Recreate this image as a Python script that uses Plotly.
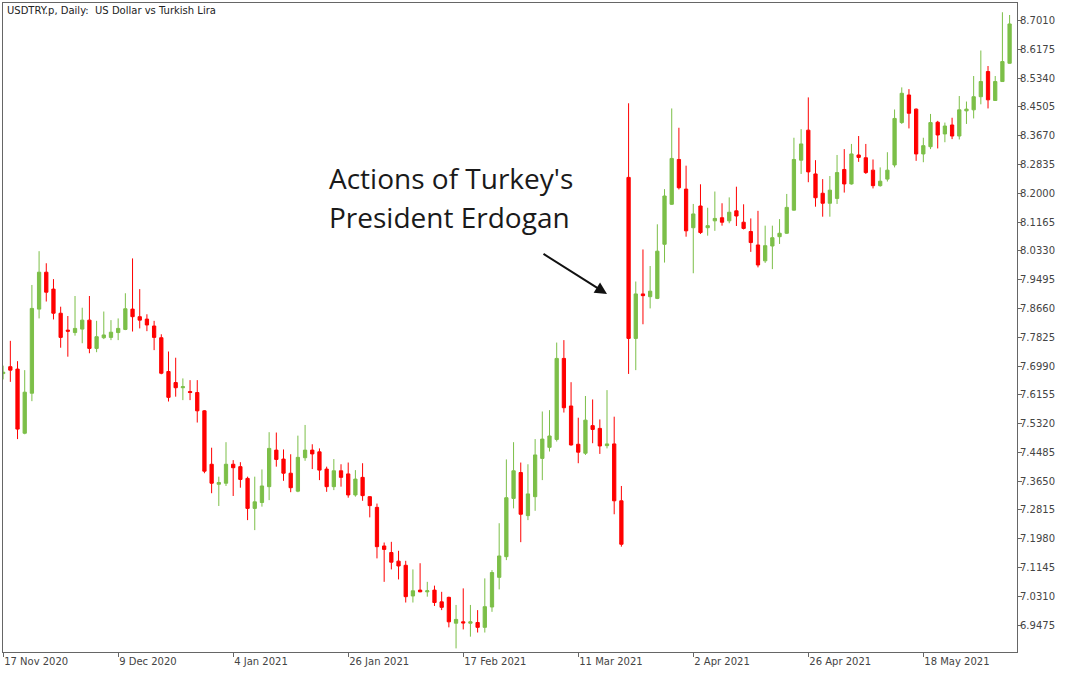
import pandas as pd
import plotly.graph_objects as go

# ---- data -------------------------------------------------------------
holidays = ["2020-12-25", "2021-01-01"]
dates = [d.strftime("%Y-%m-%d") for d in pd.bdate_range("2020-11-17", "2021-06-03")
         if d.strftime("%Y-%m-%d") not in holidays]

open_ = [7.677, 7.697, 7.690, 7.504, 7.620, 7.864, 7.971, 7.922, 7.852, 7.803,
         7.796, 7.806, 7.832, 7.750, 7.781, 7.782, 7.796, 7.805, 7.864, 7.842,
         7.835, 7.815, 7.781, 7.683, 7.651, 7.636, 7.625, 7.622, 7.569, 7.414,
         7.356, 7.359, 7.414, 7.407, 7.373, 7.286, 7.303, 7.349, 7.455, 7.429,
         7.388, 7.336, 7.433, 7.455, 7.450, 7.400, 7.349, 7.395, 7.386, 7.325,
         7.376, 7.320, 7.289, 7.177, 7.158, 7.133, 7.121, 7.032, 7.049, 7.044,
         7.049, 7.015, 7.028, 6.953, 6.957, 6.953, 6.955, 6.941, 7.000, 7.086,
         7.146, 7.315, 7.390, 7.265, 7.320, 7.431, 7.463, 7.486, 7.721, 7.583,
         7.472, 7.446, 7.526, 7.518, 7.468, 7.473, 7.308, 8.246, 7.779, 7.908,
         7.900, 7.895, 8.052, 8.168, 8.298, 8.212, 8.100, 8.163, 8.100, 8.120,
         8.129, 8.120, 8.149, 8.116, 8.089, 8.050, 8.004, 8.047, 8.074, 8.084,
         8.151, 8.296, 8.383, 8.256, 8.200, 8.171, 8.185, 8.269, 8.227, 8.311,
         8.303, 8.267, 8.222, 8.241, 8.282, 8.405, 8.485, 8.444, 8.314, 8.335,
         8.406, 8.372, 8.398, 8.366, 8.439, 8.442, 8.480, 8.553, 8.469, 8.524,
         8.577]
high = [7.700, 7.772, 7.713, 7.687, 7.934, 8.032, 7.997, 7.951, 7.871, 7.844,
        7.902, 7.868, 7.902, 7.830, 7.857, 7.832, 7.837, 7.910, 8.011, 7.922,
        7.849, 7.830, 7.791, 7.741, 7.723, 7.663, 7.658, 7.658, 7.571, 7.462,
        7.378, 7.478, 7.426, 7.420, 7.378, 7.378, 7.399, 7.507, 7.506, 7.457,
        7.443, 7.497, 7.528, 7.472, 7.460, 7.407, 7.429, 7.414, 7.419, 7.397,
        7.417, 7.321, 7.300, 7.187, 7.189, 7.163, 7.134, 7.109, 7.127, 7.073,
        7.062, 7.044, 7.030, 7.006, 7.054, 7.006, 6.991, 7.083, 7.107, 7.243,
        7.428, 7.478, 7.419, 7.414, 7.487, 7.567, 7.571, 7.767, 7.774, 7.652,
        7.549, 7.612, 7.602, 7.544, 7.629, 7.552, 7.351, 8.461, 7.944, 8.037,
        7.989, 8.110, 8.212, 8.446, 8.390, 8.280, 8.169, 8.226, 8.158, 8.205,
        8.171, 8.188, 8.219, 8.168, 8.127, 8.149, 8.106, 8.106, 8.125, 8.198,
        8.361, 8.386, 8.478, 8.296, 8.241, 8.250, 8.311, 8.328, 8.343, 8.366,
        8.343, 8.298, 8.275, 8.319, 8.443, 8.507, 8.502, 8.446, 8.361, 8.430,
        8.410, 8.405, 8.419, 8.482, 8.466, 8.540, 8.614, 8.569, 8.540, 8.725,
        8.717]
low = [7.660, 7.653, 7.487, 7.501, 7.597, 7.837, 7.886, 7.834, 7.752, 7.726,
       7.787, 7.765, 7.736, 7.739, 7.777, 7.774, 7.774, 7.803, 7.799, 7.808,
       7.800, 7.745, 7.675, 7.596, 7.610, 7.600, 7.600, 7.535, 7.388, 7.330,
       7.293, 7.351, 7.322, 7.346, 7.252, 7.223, 7.291, 7.310, 7.407, 7.366,
       7.333, 7.333, 7.424, 7.400, 7.368, 7.334, 7.339, 7.349, 7.317, 7.320,
       7.308, 7.260, 7.141, 7.073, 7.109, 7.080, 7.013, 7.013, 7.043, 7.030,
       7.003, 6.991, 6.941, 6.880, 6.935, 6.914, 6.926, 6.926, 6.986, 7.051,
       7.136, 7.286, 7.188, 7.252, 7.279, 7.368, 7.451, 7.480, 7.564, 7.468,
       7.417, 7.441, 7.475, 7.444, 7.460, 7.269, 7.175, 7.676, 7.687, 7.820,
       7.866, 7.893, 7.999, 8.166, 8.211, 8.074, 7.968, 8.082, 8.077, 8.091,
       8.106, 8.113, 8.105, 8.095, 8.030, 7.985, 7.998, 7.980, 8.053, 8.082,
       8.150, 8.256, 8.232, 8.161, 8.132, 8.132, 8.169, 8.202, 8.225, 8.291,
       8.256, 8.214, 8.219, 8.234, 8.275, 8.401, 8.388, 8.294, 8.290, 8.328,
       8.330, 8.348, 8.357, 8.356, 8.401, 8.417, 8.458, 8.446, 8.468, 8.523,
       8.576]
close = [7.681, 7.687, 7.516, 7.623, 7.866, 7.971, 7.913, 7.852, 7.782, 7.800,
         7.808, 7.832, 7.750, 7.784, 7.789, 7.797, 7.808, 7.865, 7.842, 7.832,
         7.818, 7.782, 7.678, 7.608, 7.636, 7.639, 7.622, 7.569, 7.394, 7.359,
         7.361, 7.414, 7.404, 7.370, 7.286, 7.305, 7.351, 7.460, 7.428, 7.388,
         7.346, 7.434, 7.455, 7.444, 7.397, 7.349, 7.395, 7.376, 7.325, 7.371,
         7.323, 7.294, 7.175, 7.167, 7.130, 7.119, 7.030, 7.047, 7.044, 7.047,
         7.013, 6.999, 6.957, 6.964, 6.954, 6.957, 6.941, 7.001, 7.100, 7.148,
         7.317, 7.395, 7.269, 7.328, 7.441, 7.487, 7.496, 7.721, 7.578, 7.470,
         7.449, 7.542, 7.515, 7.467, 7.473, 7.308, 7.182, 7.779, 7.908, 7.903,
         7.916, 8.032, 8.192, 8.301, 8.216, 8.091, 8.140, 8.086, 8.106, 8.127,
         8.116, 8.145, 8.134, 8.098, 8.057, 7.992, 8.048, 8.071, 8.084, 8.159,
         8.298, 8.343, 8.262, 8.187, 8.171, 8.209, 8.260, 8.227, 8.314, 8.304,
         8.260, 8.222, 8.235, 8.267, 8.417, 8.490, 8.432, 8.314, 8.338, 8.405,
         8.369, 8.395, 8.366, 8.442, 8.444, 8.480, 8.524, 8.471, 8.524, 8.582,
         8.691]

price_ticks = [8.7010, 8.6175, 8.5340, 8.4505, 8.3670, 8.2835, 8.2000, 8.1165,
               8.0330, 7.9495, 7.8660, 7.7825, 7.6990, 7.6155, 7.5320, 7.4485,
               7.3650, 7.2815, 7.1980, 7.1145, 7.0310, 6.9475]
date_tick_vals = ["2020-11-17", "2020-12-09", "2021-01-04", "2021-01-26", "2021-02-17",
                  "2021-03-11", "2021-04-02", "2021-04-26", "2021-05-18"]
date_tick_text = ["17 Nov 2020", "9 Dec 2020", "4 Jan 2021", "26 Jan 2021", "17 Feb 2021",
                  "11 Mar 2021", "2 Apr 2021", "26 Apr 2021", "18 May 2021"]

title_text = "USDTRY.p, Daily:  US Dollar vs Turkish Lira"
note_lines = ["Actions of Turkey's", "President Erdogan"]

# ---- figure -----------------------------------------------------------
GREEN = "#7CBF48"
RED = "#FF0000"
AXIS_FONT = dict(family="DejaVu Sans", size=10, color="#444444")

fig = go.Figure(go.Candlestick(
    x=dates, open=open_, high=high, low=low, close=close,
    increasing=dict(line=dict(color=GREEN, width=1), fillcolor=GREEN),
    decreasing=dict(line=dict(color=RED, width=1), fillcolor=RED),
    whiskerwidth=0, hoverinfo="skip",
))

W, H = 1080, 675
L, R, T, B = 3, 63, 3, 23
pw, ph = W - L - R, H - T - B


def px(x):
    return (x - L) / pw


def py(y):
    return 1 - (y - T) / ph


fig.update_layout(
    width=W, height=H,
    margin=dict(l=L, r=R, t=T, b=B, pad=0),
    paper_bgcolor="white", plot_bgcolor="white",
    showlegend=False, boxgap=0.35, hovermode=False,
    font=AXIS_FONT,
)
fig.update_xaxes(
    type="category", range=[-0.02, 141.03], rangeslider_visible=False,
    showgrid=False, zeroline=False,
    showline=True, mirror=True, linecolor="#666666", linewidth=1,
    tickmode="array", tickvals=date_tick_vals, ticktext=date_tick_text,
    ticks="outside", ticklen=4, tickcolor="#666666",
    ticklabelposition="outside right",
    tickfont=AXIS_FONT,
)
fig.update_yaxes(
    side="right", range=[6.8695, 8.7518],
    showgrid=False, zeroline=False,
    showline=True, mirror=True, linecolor="#666666", linewidth=1,
    tickmode="array", tickvals=price_ticks,
    ticktext=[f"{v:.4f}" for v in price_ticks],
    ticks="outside", ticklen=4, tickcolor="#666666",
    ticklabelstandoff=-4,
    tickfont=AXIS_FONT,
)

fig.add_annotation(
    xref="paper", yref="paper", x=px(5), y=py(10), xanchor="left", yanchor="middle",
    text=title_text, showarrow=False,
    font=dict(family="DejaVu Sans", size=10, color="#222222"),
)
for line_text, yc in zip(note_lines, [178, 217]):
    fig.add_annotation(
        xref="paper", yref="paper", x=px(327), y=py(yc), xanchor="left", yanchor="middle",
        text=line_text, showarrow=False,
        font=dict(family="Open Sans", size=28, color="#1a1a1a"),
    )
fig.add_annotation(
    xref="paper", yref="paper", x=px(607), y=py(294), text="",
    showarrow=True, ax=542 - 607, ay=253 - 294,
    arrowhead=2, arrowsize=1.2, arrowwidth=2, arrowcolor="#111111",
)

fig.write_html("out.html", config={"displayModeBar": False, "staticPlot": True},
               post_script="document.body.style.margin='0px';")
